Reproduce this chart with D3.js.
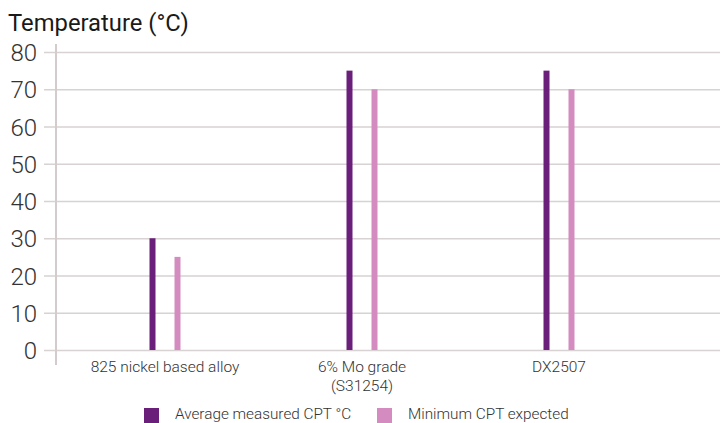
<!DOCTYPE html>
<html><head><meta charset="utf-8">
<script src="https://cdn.jsdelivr.net/npm/d3@7"></script>
<style>body{margin:0;background:#fff}svg{display:block}</style>
</head><body>
<svg id="c" width="723" height="423"></svg>
<script>
const categories = ["825 nickel based alloy", "6% Mo grade\n(S31254)", "DX2507"];
const seriesNames = ["Average measured CPT °C", "Minimum CPT expected"];
const averageCPT = [30, 75, 75];
const minimumCPT = [25, 70, 70];
const yTicks = [0, 10, 20, 30, 40, 50, 60, 70, 80];
const colors = ["#6a1f7a", "#d48bbf"];

const svg = d3.select("#c");
const font = "Roboto, sans-serif";
const y = d3.scaleLinear().domain([0, 80]).range([350, 52]);
const x = d3.scaleBand().domain(categories).range([66.5, 657.5]);

svg.append("text").attr("x", 8).attr("y", 31).attr("font-family", font)
  .attr("font-size", 23.8).attr("fill", "#1a1a1a").text("Temperature (°C)");

// grid
const yAxis = d3.axisLeft(y).tickValues(yTicks).tickSize(-(720 - 44)).tickPadding(0).tickFormat(d3.format("d"));
const gy = svg.append("g").attr("transform", "translate(44,0)").call(yAxis);
gy.select(".domain").remove();
gy.selectAll(".tick line").attr("x2", 720 - 44).attr("stroke", "#d8d2d2").attr("stroke-width", 1.5);
gy.selectAll(".tick text").attr("x", -7).attr("font-family", font).attr("font-size", 24)
  .attr("font-weight", 300).attr("fill", "#333").attr("dy", "0.36em");

svg.append("line").attr("x1", 56).attr("x2", 56).attr("y1", 44).attr("y2", 365)
  .attr("stroke", "#d4cccc").attr("stroke-width", 2);

const series = [averageCPT, minimumCPT];
series.forEach((vals, si) => {
  svg.append("g").selectAll("rect").data(categories).join("rect")
    .attr("x", (c) => x(c) + x.bandwidth() / 2 + (si === 0 ? -15.5 : 9.5))
    .attr("width", 6)
    .attr("y", (c, i) => y(vals[i]))
    .attr("height", (c, i) => y(0) - y(vals[i]))
    .attr("fill", colors[si]);
});

// category labels
categories.forEach((c) => {
  const lines = c.split("\n");
  const t = svg.append("text").attr("text-anchor", "middle").attr("font-family", font)
    .attr("font-size", 15.5).attr("font-weight", 300).attr("fill", "#333");
  lines.forEach((l, i) => t.append("tspan").attr("x", x(c) + x.bandwidth() / 2).attr("y", 372 + i * 19).text(l));
});

// legend
const legX = [144, 377];
seriesNames.forEach((n, i) => {
  svg.append("rect").attr("x", legX[i]).attr("y", 408).attr("width", 15).attr("height", 15).attr("fill", colors[i]);
  svg.append("text").attr("x", legX[i] + 31).attr("y", 419).attr("font-family", font)
    .attr("font-size", 15.3).attr("font-weight", 300).attr("fill", "#333").text(n);
});
</script>
</body></html>
